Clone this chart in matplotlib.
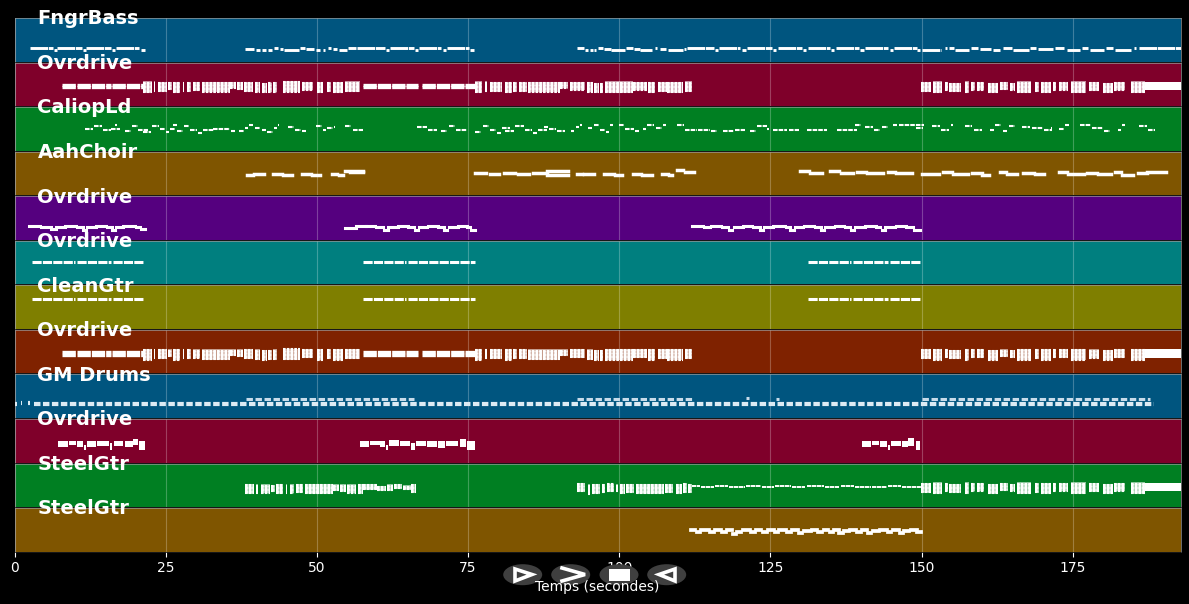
import matplotlib
matplotlib.use("Agg")
import matplotlib.pyplot as plt
from matplotlib.patches import Ellipse, Polygon, Rectangle

FIG_W, FIG_H = 1189, 604
LEFT, RIGHT = 14.5, 1181.0
TOP = 18.0
ROW_STEP = 44.55
ROW_H = 43.6
TMAX = 192.9

TICKS = [0, 25, 50, 75, 100, 125, 150, 175]

NAMES = ["FngrBass", "Ovrdrive", "CaliopLd", "AahChoir", "Ovrdrive", "Ovrdrive",
         "CleanGtr", "Ovrdrive", "GM Drums", "Ovrdrive", "SteelGtr", "SteelGtr"]
COLORS = ["#00557f", "#7f002a", "#007f22", "#7f5500", "#55007f", "#007f7f",
          "#7f7f00", "#7f2200", "#00557f", "#7f002a", "#007f22", "#7f5500"]

# notes: (start s, end s, midi pitch)
BASS = [
    (2.5, 6.4, 39), (6.6, 7.0, 35), (7.1, 11.2, 39), (11.4, 11.8, 34), (11.9, 16.0, 39), (16.2, 16.6, 35),
    (16.8, 20.6, 39), (20.9, 21.6, 35),
    (38.1, 39.6, 38), (40.0, 40.6, 34), (41.0, 41.6, 34), (42.0, 42.5, 34), (42.9, 43.6, 40), (43.9, 44.4, 38),
    (44.6, 47.0, 35), (47.2, 48.0, 39), (48.2, 49.6, 38), (49.8, 50.6, 35), (51.0, 51.4, 33), (51.9, 52.4, 40),
    (52.7, 53.4, 37), (53.7, 55.0, 35), (55.2, 56.4, 39), (56.6, 61.2, 39), (61.4, 61.9, 34), (62.1, 66.0, 39),
    (66.2, 66.7, 34), (66.9, 70.6, 39), (70.8, 71.3, 35), (71.5, 75.2, 39), (75.4, 76.0, 35),
    (93.0, 94.1, 39), (94.4, 94.9, 35), (95.1, 95.6, 35), (95.8, 96.1, 35), (96.5, 97.3, 40), (97.5, 98.6, 38),
    (98.7, 101.0, 35), (101.2, 102.3, 39), (102.4, 103.4, 37), (103.5, 105.4, 35), (105.9, 106.3, 40),
    (106.7, 107.8, 38), (108.1, 110.5, 35), (110.7, 111.0, 37), (111.2, 115.6, 39), (115.8, 116.3, 33),
    (116.5, 120.0, 39), (120.3, 120.9, 33), (121.2, 125.2, 39), (125.5, 125.9, 34), (126.2, 130.2, 39),
    (130.4, 130.9, 33), (131.2, 134.9, 39), (135.1, 135.6, 33), (135.8, 139.6, 39), (139.9, 140.4, 33),
    (140.6, 144.4, 39), (144.7, 145.2, 33), (145.4, 149.2, 39), (149.3, 149.8, 33), (150.0, 153.2, 35),
    (153.8, 154.2, 41), (154.5, 155.4, 39), (155.6, 157.9, 35), (158.1, 159.4, 39), (159.7, 161.4, 36),
    (161.8, 163.0, 35), (163.5, 165.0, 39), (165.2, 167.8, 35), (168.0, 168.9, 40), (169.3, 171.7, 36),
    (172.1, 173.6, 39), (174.0, 176.2, 35), (176.6, 177.6, 39), (177.9, 180.2, 35), (180.5, 181.6, 39),
    (182.0, 184.6, 35), (185.1, 185.5, 39), (186.0, 192.9, 39),
]
OD_SOLO_1 = [
    (57.6, 66.7, 55), (57.6, 66.7, 62), (67.4, 76.1, 55), (67.4, 76.1, 62),
    (7.8, 10.2, 55), (7.8, 10.2, 62), (10.4, 16.0, 55), (10.4, 16.0, 62), (16.2, 21.2, 55), (16.2, 21.2, 62),
]
# chord blocks: (start s, end s, low pitch, high pitch)
OD_CHORDS = [
    (21.2, 22.7, 38, 72), (23.0, 23.3, 42, 72), (23.7, 25.2, 42, 70), (25.4, 26.0, 48, 70), (26.2, 27.4, 38, 70),
    (27.9, 28.0, 42, 70), (28.5, 29.2, 42, 70), (29.5, 30.7, 44, 70), (31.0, 35.6, 40, 70), (35.6, 36.6, 52, 70),
    (36.8, 37.8, 48, 70), (38.0, 39.4, 42, 70), (39.8, 40.6, 40, 70), (41.0, 41.7, 38, 68), (41.9, 42.5, 40, 68),
    (42.8, 43.4, 40, 70), (44.4, 47.2, 40, 72), (47.5, 49.3, 46, 70), (50.0, 51.0, 38, 70), (51.7, 52.4, 42, 70),
    (52.7, 54.3, 38, 70), (54.6, 57.1, 42, 72),
    (76.1, 77.3, 38, 72), (77.8, 78.1, 42, 72), (78.6, 80.6, 42, 70), (81.1, 82.2, 38, 70), (82.4, 83.1, 42, 70),
    (83.4, 84.7, 42, 70), (84.9, 90.2, 40, 70), (90.2, 91.6, 52, 70), (91.8, 94.4, 46, 70), (94.6, 95.6, 40, 70),
    (95.8, 96.6, 38, 68), (96.8, 97.3, 38, 68), (97.6, 102.2, 38, 72), (102.2, 104.6, 46, 70), (104.8, 105.9, 38, 70),
    (106.4, 107.9, 42, 70), (107.9, 110.5, 38, 70), (110.9, 112.0, 42, 72),
]
OD_CHORDS_END = [
    (149.9, 151.6, 42, 70), (151.9, 153.3, 38, 72), (153.8, 154.3, 46, 70), (154.6, 156.6, 42, 68), (157.1, 157.9, 38, 72),
    (158.2, 158.8, 46, 70), (159.1, 160.4, 46, 70), (161.0, 162.6, 38, 68), (162.9, 164.3, 48, 70), (164.6, 165.4, 46, 68),
    (165.7, 168.1, 38, 72), (168.7, 169.5, 42, 70), (169.8, 171.4, 38, 70), (171.7, 172.3, 46, 70), (172.8, 174.2, 46, 70),
    (174.7, 177.2, 38, 72), (177.7, 179.4, 44, 70), (180.0, 181.6, 38, 68), (181.9, 183.6, 46, 70), (184.7, 186.9, 38, 72),
]
OD_CHORDS_TAIL = [(186.9, 192.9, 46, 70)]
CALIOPE = [
    (11.7, 13.0, 62), (13.2, 14.4, 72), (14.6, 15.9, 60), (16.0, 17.4, 62), (16.6, 17.0, 74),
    (18.2, 19.2, 58), (19.4, 20.4, 72), (20.5, 22.0, 60),
    (21.3, 22.5, 54), (22.7, 23.9, 72), (24.1, 24.9, 62), (25.0, 25.6, 54), (25.7, 26.6, 62),
    (26.2, 26.8, 74), (26.9, 27.8, 58), (28.0, 28.8, 72), (29.0, 30.2, 60), (30.4, 31.0, 52), (31.2, 33.0, 60),
    (32.8, 35.6, 62), (35.8, 36.4, 56), (37.2, 38.0, 56), (38.1, 38.6, 66), (38.8, 39.4, 74),
    (39.8, 40.6, 66), (40.9, 41.6, 60), (41.8, 42.7, 54), (42.9, 43.4, 66), (43.5, 43.8, 74),
    (45.2, 46.2, 70), (46.4, 47.4, 60), (47.6, 48.2, 58),
    (49.8, 50.8, 72), (51.0, 51.5, 60), (51.7, 52.7, 66), (52.9, 53.0, 70),
    (54.6, 55.7, 72), (55.9, 57.6, 60),
    (66.6, 68.2, 68), (68.4, 69.8, 60), (70.5, 71.5, 58), (71.8, 72.8, 72), (73.0, 74.8, 60),
    (76.1, 77.2, 54), (77.4, 78.4, 72), (78.6, 79.6, 60), (79.8, 80.4, 52), (80.6, 82.0, 66),
    (81.1, 82.6, 56), (82.8, 84.2, 72), (84.4, 85.6, 60), (85.8, 86.4, 52), (86.6, 88.0, 60),
    (87.5, 88.2, 68), (88.4, 89.5, 62), (89.7, 91.0, 58),
    (92.0, 92.6, 56), (92.8, 93.4, 70), (93.5, 93.9, 74),
    (94.8, 95.5, 66), (95.8, 96.6, 74), (96.8, 97.6, 60), (97.8, 98.3, 54), (98.5, 98.9, 74),
    (100.0, 100.8, 74), (101.0, 102.4, 64), (102.6, 103.2, 58),
    (104.0, 104.4, 62), (104.6, 105.8, 76), (106.0, 107.0, 66), (107.2, 107.8, 76),
    (109.5, 110.7, 76), (110.9, 112.8, 60), (113.0, 115.0, 60), (115.2, 116.1, 56),
    (117.1, 119.0, 58), (119.2, 120.8, 60),
    (121.6, 122.6, 56), (122.8, 124.4, 72), (124.5, 124.8, 62), (125.4, 127.8, 60), (128.1, 129.8, 60),
    (131.1, 134.4, 60), (136.0, 139.4, 60), (139.0, 140.0, 74),
    (140.6, 142.0, 70), (142.2, 143.2, 60), (143.4, 144.4, 70),
    (145.2, 146.0, 76), (146.2, 150.4, 76), (149.0, 150.2, 66),
    (151.8, 153.0, 72), (153.2, 154.6, 60), (154.8, 155.2, 74),
    (157.2, 158.4, 72), (158.6, 160.0, 60),
    (161.3, 162.0, 60), (162.2, 163.2, 74), (163.4, 164.2, 58), (164.4, 165.5, 72),
    (166.6, 168.0, 70), (168.2, 170.0, 66), (170.2, 171.5, 60), (171.4, 171.6, 66),
    (172.8, 173.6, 62), (173.8, 174.3, 76),
    (176.2, 178.0, 74), (178.2, 180.0, 66), (180.2, 181.1, 56),
    (182.4, 183.0, 60), (183.2, 183.7, 76),
    (186.0, 187.2, 72), (187.4, 188.6, 60),
]
CHOIR = [
    (38.5, 39.4, 60), (39.6, 41.2, 62), (42.8, 44.2, 62), (44.4, 45.9, 60), (47.6, 49.0, 63), (49.2, 50.6, 60),
    (52.5, 53.4, 63), (53.6, 54.4, 58), (54.6, 57.6, 71), (55.4, 57.6, 67),
    (76.1, 78.0, 65), (78.6, 80.2, 63), (81.0, 82.7, 65), (83.3, 85.0, 63), (85.8, 88.0, 65), (88.0, 91.5, 70),
    (88.0, 91.5, 60), (93.0, 93.8, 62), (94.1, 95.8, 63), (97.5, 99.2, 63), (99.3, 100.4, 60), (102.2, 103.6, 63),
    (103.8, 105.4, 60), (107.0, 108.0, 62), (108.2, 108.8, 58), (109.6, 110.6, 74), (110.8, 112.4, 68),
    (129.9, 131.4, 70), (131.6, 133.6, 66), (134.8, 136.4, 70), (136.6, 138.6, 66), (139.4, 140.8, 68),
    (141.0, 143.6, 66), (144.4, 145.6, 68), (145.8, 148.4, 66),
    (150.0, 152.8, 62), (153.6, 155.0, 68), (155.2, 157.6, 62), (158.3, 160.0, 65), (160.0, 161.2, 60),
    (163.0, 164.0, 68), (164.2, 165.8, 62), (166.7, 168.6, 66), (168.8, 170.2, 63), (172.7, 174.0, 69),
    (174.2, 176.8, 62), (177.3, 179.0, 66), (179.2, 181.4, 62), (182.0, 183.0, 68), (183.2, 185.0, 60),
    (185.8, 187.2, 65), (187.2, 190.5, 67),
]
OD_MELODY = [
    (2.4, 4.2, 40), (4.4, 6.0, 37), (6.1, 6.8, 32), (6.9, 8.4, 37), (8.4, 10.2, 40), (10.3, 11.3, 37),
    (11.4, 11.9, 30), (12.0, 13.5, 37), (13.5, 15.2, 40), (15.3, 16.1, 37), (16.2, 16.7, 29), (16.8, 18.0, 36),
    (18.0, 20.0, 39), (20.1, 20.8, 37), (20.9, 21.5, 31),
    (54.7, 56.4, 34), (56.5, 58.2, 39), (58.2, 59.6, 40), (59.7, 61.0, 36), (61.1, 61.7, 30), (61.8, 63.4, 37),
    (63.4, 65.0, 40), (65.1, 66.0, 36), (66.2, 66.7, 30), (66.9, 68.2, 37), (68.3, 70.0, 40), (70.1, 71.0, 36),
    (71.1, 71.6, 30), (71.8, 73.4, 38), (73.4, 74.8, 40), (74.9, 75.3, 36), (75.5, 76.1, 30),
    (112.0, 113.8, 40), (114.0, 115.0, 37), (115.2, 116.9, 40), (117.0, 118.0, 36), (118.1, 118.7, 30),
    (118.9, 120.4, 37), (120.5, 122.0, 40), (122.2, 123.2, 36), (123.3, 123.8, 30), (124.0, 125.4, 37),
    (125.5, 127.4, 40), (127.6, 128.2, 36), (128.3, 128.9, 30), (129.0, 130.4, 38), (130.5, 132.2, 40),
    (132.3, 133.3, 37), (133.4, 133.9, 30), (134.0, 135.6, 37), (135.7, 137.2, 40), (137.3, 138.2, 37),
    (138.3, 138.8, 29), (139.0, 140.6, 37), (140.7, 142.4, 40), (142.5, 143.2, 36), (143.4, 143.9, 29),
    (144.0, 145.6, 37), (145.7, 147.4, 40), (147.5, 148.5, 36), (148.8, 149.8, 30),
]
OD_PEDAL = [(2.9, 10.0, 65), (10.3, 16.0, 65), (16.3, 21.4, 65), (57.6, 64.8, 65), (65.0, 76.2, 65),
            (131.3, 138.4, 65), (138.7, 144.4, 65), (144.7, 149.9, 65)]
CLEAN_PEDAL = [(2.9, 10.0, 88), (10.3, 16.0, 88), (16.3, 21.4, 88), (57.6, 64.8, 88), (65.0, 76.2, 88),
               (131.3, 138.4, 88), (138.7, 144.4, 88), (144.7, 149.9, 88)]
DRUM_LOW = [(0.1, 0.4, 41), (1.0, 1.3, 44), (2.2, 2.5, 44), (3.2, 188.4, 41)]
DRUM_HIGH = [(38.2, 66.0, 55), (93.0, 112.0, 55), (150.0, 187.8, 55), (121.0, 121.4, 58), (126.0, 126.4, 56)]
OD_HARM = [
    (7.2, 8.8, 44, 62), (9.0, 10.2, 50, 64), (10.3, 11.3, 44, 62), (11.5, 11.8, 36, 50), (12.0, 13.4, 46, 64),
    (13.6, 15.6, 48, 62), (15.8, 16.2, 38, 56), (16.4, 18.0, 48, 64), (18.2, 19.6, 44, 62), (19.6, 20.4, 50, 70),
    (20.6, 21.6, 38, 62),
    (57.2, 58.6, 44, 62), (58.8, 60.4, 50, 64), (60.5, 61.2, 44, 62), (61.4, 61.8, 36, 50), (62.0, 63.6, 48, 66),
    (63.8, 65.4, 48, 64), (65.6, 66.2, 38, 56), (66.4, 68.0, 48, 62), (68.2, 69.8, 44, 62), (70.0, 71.2, 42, 64),
    (71.4, 73.4, 48, 64), (73.6, 74.6, 44, 70), (74.8, 76.2, 38, 64),
    (140.2, 141.6, 44, 62), (141.8, 143.0, 50, 64), (143.2, 144.2, 44, 62), (144.4, 144.8, 38, 50), (145.0, 146.6, 48, 64),
    (146.8, 147.8, 44, 64), (147.8, 148.8, 48, 72), (149.0, 149.8, 38, 64),
]
STEEL_CHORDS_A = [
    (38.1, 39.6, 38, 66), (40.0, 40.3, 40, 66), (40.7, 42.2, 40, 66), (42.4, 43.0, 44, 64), (43.2, 44.4, 38, 66),
    (44.9, 45.0, 40, 66), (45.5, 46.2, 40, 66), (46.5, 47.7, 42, 66), (48.0, 52.6, 38, 66), (52.6, 53.6, 48, 66),
    (53.8, 54.8, 44, 66), (55.0, 56.4, 40, 66), (56.8, 57.6, 38, 66), (57.6, 60.0, 50, 66), (60.0, 61.4, 48, 62),
    (61.6, 62.6, 48, 66), (62.8, 64.0, 54, 66), (64.2, 65.6, 50, 64), (65.6, 66.4, 42, 66),
]
STEEL_CHORDS_B = [
    (93.0, 94.4, 44, 70), (94.8, 95.1, 36, 66), (95.5, 96.9, 38, 66), (97.2, 97.7, 42, 66), (98.0, 99.1, 44, 68),
    (99.5, 99.8, 44, 66), (100.2, 100.9, 38, 66), (101.2, 102.4, 42, 68), (102.7, 107.4, 38, 68), (107.6, 108.9, 42, 68),
    (109.4, 110.4, 38, 68), (110.6, 111.2, 42, 70), (111.3, 112.0, 42, 68),
]
STEEL_THIN = [
    (112.0, 113.4, 61), (113.6, 115.6, 60), (115.8, 118.0, 61), (118.2, 120.8, 60), (121.0, 123.4, 61), (123.6, 125.6, 59),
    (125.8, 128.4, 61), (128.6, 130.8, 60), (131.0, 133.8, 61), (134.0, 136.4, 60), (136.6, 138.8, 61), (139.0, 141.6, 60),
    (141.8, 144.2, 60), (144.4, 146.6, 61), (146.8, 150.0, 60),
]
STEEL_MELODY = [
    (111.9, 112.6, 62), (112.8, 113.4, 56), (113.6, 114.8, 63), (115.0, 115.7, 56), (115.9, 116.9, 63), (117.0, 117.6, 56),
    (117.8, 118.6, 63), (118.8, 119.3, 52), (119.5, 120.2, 58), (120.4, 121.6, 64), (121.8, 122.5, 56), (122.7, 123.5, 63),
    (123.7, 124.4, 56), (124.6, 125.6, 63), (125.8, 126.3, 56), (126.5, 127.5, 63), (127.7, 128.4, 56), (128.6, 129.6, 63),
    (129.8, 130.3, 53), (130.5, 131.7, 60), (131.9, 132.7, 64), (132.9, 133.6, 56), (133.8, 134.6, 63), (134.8, 135.4, 56),
    (135.6, 136.3, 63), (136.4, 137.0, 53), (137.2, 138.0, 60), (138.2, 139.2, 64), (139.4, 140.0, 56), (140.2, 141.0, 63),
    (141.2, 141.7, 53), (141.9, 143.0, 60), (143.2, 144.2, 64), (144.4, 145.0, 56), (145.2, 146.2, 63), (146.4, 146.9, 53),
    (147.1, 148.0, 60), (148.2, 149.2, 63), (149.3, 149.9, 56),
]

NOTES = [BASS, OD_SOLO_1, CALIOPE, CHOIR, OD_MELODY, OD_PEDAL,
         CLEAN_PEDAL, OD_SOLO_1, [], [], STEEL_THIN, STEEL_MELODY]
STRIPES = [[], OD_CHORDS + OD_CHORDS_END, [], [], [], [], [], OD_CHORDS + OD_CHORDS_END, [], [],
           STEEL_CHORDS_A + STEEL_CHORDS_B + OD_CHORDS_END, []]
BLOCKS = [[], OD_CHORDS_TAIL, [], [], [], [], [], OD_CHORDS_TAIL, [], OD_HARM, OD_CHORDS_TAIL, []]

# row index -> (line width, dash pattern), solid rows use None
NOTE_STYLE = {0: (2.1, (0, (6.0, 0.25))), 1: (2.4, (0, (4.0, 0.3))), 2: (1.5, (0, (2.2, 0.5))),
              3: (2.5, None), 4: (2.2, None), 5: (2.2, (0, (3.0, 0.4))), 6: (2.2, (0, (3.0, 0.4))),
              7: (2.4, (0, (4.0, 0.3))), 10: (1.4, (0, (2.2, 0.3))), 11: (2.7, None)}

plt.rcParams["font.family"] = "DejaVu Sans"
fig = plt.figure(figsize=(FIG_W / 100, FIG_H / 100), dpi=100, facecolor="black")


def add_row(i):
    top = TOP + ROW_STEP * i
    rect = [LEFT / FIG_W, 1 - (top + ROW_H) / FIG_H, (RIGHT - LEFT) / FIG_W, ROW_H / FIG_H]
    ax = fig.add_axes(rect, facecolor=COLORS[i])
    ax.set_xlim(0, TMAX)
    ax.set_ylim(0, 127)
    ax.set_yticks([])
    ax.set_xticks(TICKS)
    ax.grid(axis="x", color="white", alpha=0.25, linewidth=0.8)
    ax.set_axisbelow(True)
    for s in ax.spines.values():
        s.set_color("#9a9a9a")
        s.set_linewidth(0.5)
    ax.spines["bottom"].set_color("#222222")
    return ax


def draw_notes(ax, notes, lw, dash):
    xs0 = [n[0] for n in notes]
    xs1 = [n[1] for n in notes]
    ys = [n[2] for n in notes]
    if dash is None:
        ax.hlines(ys, xs0, xs1, color="white", linewidth=lw, capstyle="projecting", zorder=3)
    else:
        ax.hlines(ys, xs0, xs1, color="white", linewidth=lw, linestyles=[dash], zorder=3)


def draw_blocks(ax, blocks, alpha=1.0):
    ax.bar([b[0] for b in blocks], [b[3] - b[2] for b in blocks],
           width=[b[1] - b[0] for b in blocks], bottom=[b[2] for b in blocks],
           align="edge", color="white", alpha=alpha, linewidth=0, zorder=3)


def draw_stripes(ax, blocks):
    # soft block behind, then dashed rows so the strums show as vertical bars
    draw_blocks(ax, blocks, alpha=0.55)
    for b in blocks:
        ys = list(range(b[2] + 2, b[3], 4))
        ax.hlines(ys, b[0], b[1], color="white", linewidth=1.5, linestyles=[(0, (1.3, 0.5))], zorder=4)


axes = []
for i in range(12):
    ax = add_row(i)
    axes.append(ax)
    if NOTES[i]:
        lw, dash = NOTE_STYLE[i]
        draw_notes(ax, NOTES[i], lw, dash)
    if STRIPES[i]:
        draw_stripes(ax, STRIPES[i])
    if BLOCKS[i]:
        draw_blocks(ax, BLOCKS[i])
    ax.text(0.0197, 0.98, NAMES[i], transform=ax.transAxes, color="white", fontsize=14,
            fontweight="bold", va="center", ha="left", clip_on=False, zorder=6)
    if i < 11:
        ax.tick_params(axis="x", length=0, labelbottom=False)
    else:
        ax.tick_params(axis="x", colors="white", labelsize=10, length=3.5, width=0.8)

# drums sit in the ninth row, dashed hits
axes[8].hlines([n[2] for n in DRUM_LOW], [n[0] for n in DRUM_LOW], [n[1] for n in DRUM_LOW],
               color="#dcebf4", linewidth=3.0, linestyles=[(0, (1.55, 0.6))], zorder=3)
axes[8].hlines([n[2] for n in DRUM_HIGH], [n[0] for n in DRUM_HIGH], [n[1] for n in DRUM_HIGH],
               color="#c8dcea", linewidth=2.2, linestyles=[(0, (2.1, 0.85))], zorder=3)

# toolbar buttons drawn over everything, pixel coordinates
ui = fig.add_axes([0, 0, 1, 1], facecolor="none")
ui.set_xlim(0, FIG_W)
ui.set_ylim(FIG_H, 0)
ui.axis("off")
for cx in [522.7, 570.7, 619, 666.7]:
    ui.add_patch(Ellipse((cx, 574.7), 39, 21, facecolor="#3f3f3f", edgecolor="none"))
ui.add_patch(Polygon([(515, 569), (515, 581), (532, 574.5)], closed=True, facecolor="none", edgecolor="white", linewidth=2.6))
ui.plot([562, 585, 562], [568, 574.5, 581], color="white", linewidth=2.6, solid_joinstyle="miter")
ui.add_patch(Rectangle((609, 569), 21, 12, facecolor="white", edgecolor="none"))
ui.add_patch(Polygon([(675, 569), (675, 581), (659, 574.5)], closed=True, facecolor="none", edgecolor="white", linewidth=2.6))
ui.text(597, 587.5, "Temps (secondes)", color="white", fontsize=10, ha="center", va="center")

fig.savefig("out.png", dpi=100, facecolor="black")
